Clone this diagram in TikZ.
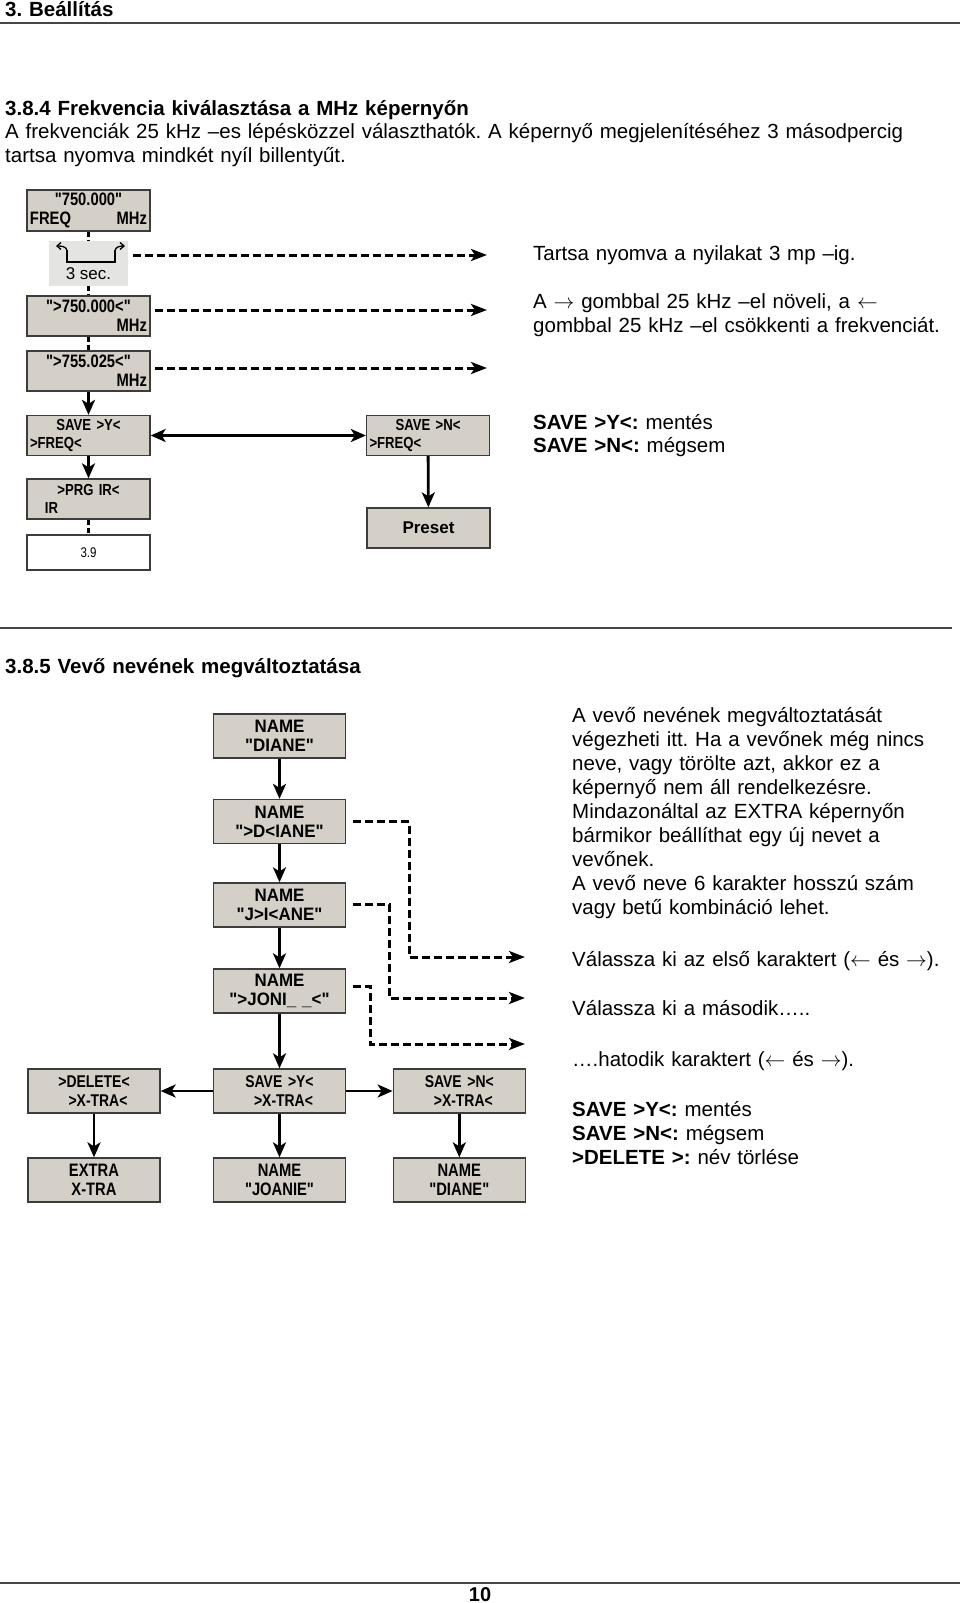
\documentclass[tikz,border=0pt]{standalone}
\usepackage{fontspec}
\setmainfont{Liberation Sans}
\newfontfamily\lcd[FakeStretch=0.82]{Liberation Sans}
\newfontfamily\lcdwide[FakeStretch=0.94]{Liberation Sans}
\usetikzlibrary{arrows.meta,positioning}
\frenchspacing
\definecolor{lcdgray}{RGB}{212,208,200}
\definecolor{secgray}{RGB}{228,228,226}
\definecolor{frame}{RGB}{60,60,60}
\definecolor{rulegray}{RGB}{70,70,70}
\tikzset{
  screen/.style={draw=frame, fill=lcdgray, line width=1.3pt, text width=117pt, minimum height=40pt, inner sep=3pt, align=center, font=\lcd\bfseries\fontsize{18}{19}\selectfont},
  menu/.style={screen, font=\lcd\bfseries\fontsize{16}{18}\selectfont},
  namebox/.style={screen, text width=126pt, minimum height=44pt, font=\lcdwide\bfseries\fontsize{18}{19}\selectfont},
  namelow/.style={namebox, font=\lcd\bfseries\fontsize{18}{19}\selectfont},
  xbox/.style={namebox, font=\lcd\bfseries\fontsize{17}{19}\selectfont},
  tip/.tip={Stealth[length=15pt,width=13pt,inset=4pt]},
  flow/.style={line width=2.8pt, -tip},
  both/.style={line width=2.8pt, tip-tip},
  hold/.style={line width=3pt, dash pattern=on 5pt off 3pt},
  dlink/.style={line width=3pt, dash pattern=on 8pt off 4pt, -{Stealth[length=16pt,width=12pt,inset=4pt]}},
  txt/.style={anchor=base west, inner sep=0pt, text width=420pt, align=left, font=\fontsize{20.5}{23.5}\selectfont},
  head/.style={txt, text width=955pt, font=\bfseries\fontsize{20.5}{23.5}\selectfont},
  rule/.style={line width=2pt, draw=rulegray}
}
\begin{document}
\begin{tikzpicture}[x=1pt,y=-1pt]
\path[fill=white, use as bounding box] (0,0) rectangle (960,1603);

% page head
\node[head] (chap) at (5,17) {3. Beállítás};
\draw[rule] (0,23) -- (960,23);
\node[head] (h384) at (5,115) {3.8.4 Frekvencia kiválasztása a MHz képernyőn};
\node[txt, text width=955pt, font=\fontsize{20.5}{24}\selectfont] (intro) at (5,138) {A frekvenciák 25 kHz –es lépésközzel választhatók. A képernyő megjelenítéséhez 3 másodpercig\\tartsa nyomva mindkét nyíl billentyűt.};

% frequency screens
\node[screen] (f1) at (88.5,210.5) {"750.000"\\FREQ\hfill MHz};
\node[fill=secgray, minimum width=79pt, minimum height=45pt, inner sep=0pt] (sec) at (88.5,263.5) {};
\node[anchor=base, inner sep=0pt, font=\fontsize{17}{17}\selectfont] (sectxt) at (88.5,279) {3 sec.};
\draw[line width=2.6pt] (67,250) -- (67,262) -- (115,262) -- (115,250);
\draw[line width=1.3pt, -{Straight Barb[length=4pt,width=7pt]}] (67,251) to[out=90,in=0] (56,246);
\draw[line width=1.3pt, -{Straight Barb[length=4pt,width=7pt]}] (115,251) to[out=90,in=180] (125,246);
\node[screen] (f2) at (88.5,316) {">750.000<"\\\mbox{}\hfill MHz};
\node[screen] (f3) at (88.5,371) {">755.025<"\\\mbox{}\hfill MHz};
\node[menu] (sy) at (88.5,435.5) {SAVE >Y<\\>FREQ<\hfill\mbox{}};
\node[menu] (prg) at (88.5,499) {>PRG IR<\\\hspace*{15pt}IR\hfill\mbox{}};
\node[screen, fill=white, minimum height=35pt, font=\lcd\fontsize{14}{14}\selectfont] (v39) at (88.5,552.5) {3.9};
\node[menu] (sn) at (428,435.5) {SAVE >N<\\>FREQ<\hfill\mbox{}};
\node[screen, font=\bfseries\fontsize{17}{17}\selectfont] (pre) at (428.5,528) {Preset};

\draw[hold] (f1) -- (sec);
\draw[hold] (sec) -- (f2);
\draw[hold] (f2) -- (f3);
\draw[flow] (f3) -- (sy);
\draw[flow] (sy) -- (prg);
\draw[hold] (prg) -- (v39);
\draw[both] (sy) -- (sn);
\draw[flow] (sn) -- (pre);

\coordinate (a1) at (487,255);
\coordinate (a2) at (487,310);
\coordinate (a3) at (487,368);
\draw[dlink] ([xshift=5pt,yshift=8.5pt]sec.east) -- (a1);
\draw[dlink] ([xshift=4pt,yshift=6pt]f2.east) -- (a2);
\draw[dlink] ([xshift=4pt,yshift=3pt]f3.east) -- (a3);

\node[txt] (t1) at (533,260) {Tartsa nyomva a nyilakat 3 mp –ig.};
\node[txt, font=\fontsize{20.5}{24}\selectfont] (t2) at (533,308) {A $\rightarrow$ gombbal 25 kHz –el növeli, a $\leftarrow$\\gombbal 25 kHz –el csökkenti a frekvenciát.};
\node[txt] (t3) at (533,429) {\textbf{SAVE >Y<:} mentés\\\textbf{SAVE >N<:} mégsem};

\draw[rule] (0,628) -- (952,628);

% name screens
\node[head] (h385) at (5,673) {3.8.5 Vevő nevének megváltoztatása};
\node[namebox] (n1) at (279.5,736) {NAME\\"DIANE"};
\node[namebox] (n2) at (279.5,821.5) {NAME\\">D<IANE"};
\node[namebox] (n3) at (279.5,905) {NAME\\"J>I<ANE"};
\node[namebox] (n4) at (279.5,991) {NAME\\">JONI\_ \_<"};
\node[xbox] (del) at (94,1091) {>DELETE<\\\hspace*{8pt}>X-TRA<};
\node[xbox] (sy2) at (279.5,1091) {SAVE >Y<\\\hspace*{8pt}>X-TRA<};
\node[xbox] (sn2) at (459.3,1091) {SAVE >N<\\\hspace*{8pt}>X-TRA<};
\node[namelow] (ext) at (94,1180) {EXTRA\\X-TRA};
\node[namelow] (joan) at (279.5,1180) {NAME\\"JOANIE"};
\node[namelow] (dia2) at (459.3,1180) {NAME\\"DIANE"};

\draw[flow] (n1) -- (n2);
\draw[flow] (n2) -- (n3);
\draw[flow] (n3) -- (n4);
\draw[flow] (n4) -- (sy2);
\draw[flow] (sy2) -- (del);
\draw[flow] (sy2) -- (sn2);
\draw[flow] (del) -- (ext);
\draw[flow] (sy2) -- (joan);
\draw[flow] (sn2) -- (dia2);

\coordinate (b1) at (525,957);
\coordinate (b2) at (525,998);
\coordinate (b3) at (525,1044);
\draw[dlink] ([xshift=7pt]n2.east) -- ++(56,0) |- (b1);
\draw[dlink] ([xshift=7pt,yshift=1pt]n3.east) -- ++(36,0) |- (b2);
\draw[dlink] ([xshift=7pt,yshift=5pt]n4.east) -- ++(17,0) |- (b3);

\node[txt, font=\fontsize{20.5}{24.1}\selectfont] (t4) at (572,722) {A vevő nevének megváltoztatását\\végezheti itt. Ha a vevőnek még nincs\\neve, vagy törölte azt, akkor ez a\\képernyő nem áll rendelkezésre.\\Mindazonáltal az EXTRA képernyőn\\bármikor beállíthat egy új nevet a\\vevőnek.\\A vevő neve 6 karakter hosszú szám\\vagy betű kombináció lehet.};
\node[txt] (t5) at (572,966) {Válassza ki az első karaktert ($\leftarrow$ és $\rightarrow$).};
\node[txt] (t6) at (572,1015) {Válassza ki a második…..};
\node[txt] (t7) at (572,1066) {….hatodik karaktert ($\leftarrow$ és $\rightarrow$).};
\node[txt, font=\fontsize{20.5}{24}\selectfont] (t8) at (572,1116) {\textbf{SAVE >Y<:} mentés\\\textbf{SAVE >N<:} mégsem\\\textbf{>DELETE >:} név törlése};

% page foot
\draw[rule] (0,1583) -- (960,1583);
\node[anchor=base, inner sep=0pt, font=\bfseries\fontsize{20}{20}\selectfont] (pg) at (480,1601) {10};
\end{tikzpicture}
\end{document}
